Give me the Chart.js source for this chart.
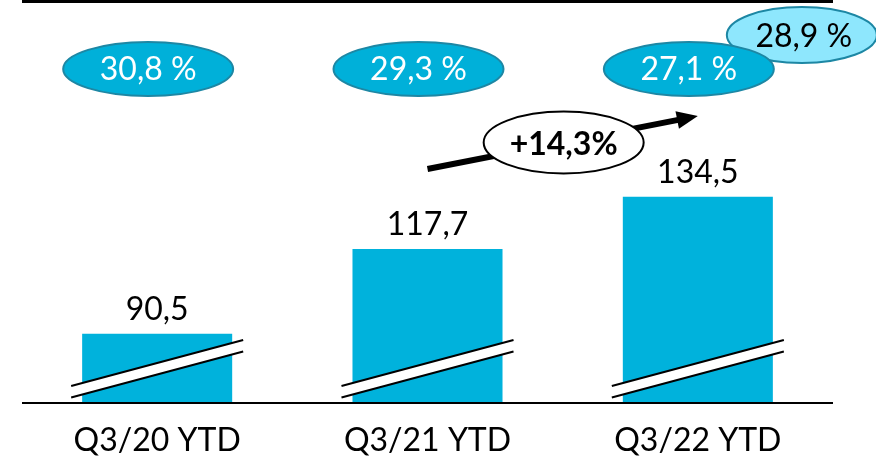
<!DOCTYPE html>
<html>
<head>
<meta charset="utf-8">
<script src="https://cdn.jsdelivr.net/npm/chart.js@4"></script>
<style>
  html, body { margin: 0; padding: 0; background: #fff; }
  canvas { display: block; }
</style>
</head>
<body>
<canvas id="salesChart" width="876" height="457"></canvas>
<script>
// Sales per period (bars) and margin per period (bubbles)
const categories = ['Q3/20 YTD', 'Q3/21 YTD', 'Q3/22 YTD'];
const sales = [90.5, 117.7, 134.5];
const margins = [30.8, 29.3, 27.1];
const adjustedMargin = 28.9; // alternative margin for the latest period

const BAR_COLOR = '#00b2dc';
const BUBBLE_FILL = '#00b0d9';
const BUBBLE_STROKE = '#1d87a4';
const BUBBLE_LIGHT = '#8ee7fd';
const FONT = 'Lato, "Open Sans", sans-serif';

const fmt = (v, digits = 1) => v.toFixed(digits).replace('.', ',');

function ellipse(ctx, cx, cy, rx, ry, fill, stroke, lineWidth) {
    ctx.beginPath();
    ctx.ellipse(cx, cy, rx, ry, 0, 0, Math.PI * 2);
    ctx.fillStyle = fill;
    ctx.fill();
    ctx.lineWidth = lineWidth;
    ctx.strokeStyle = stroke;
    ctx.stroke();
}

function centerText(ctx, text, x, baseline, color, weight = 'normal') {
    ctx.font = `${weight} 32px ${FONT}`;
    ctx.fillStyle = color;
    ctx.textAlign = 'center';
    ctx.textBaseline = 'alphabetic';
    ctx.fillText(text, x, baseline);
}

// Rules, axis breaks, value labels, margin bubbles and growth arrow
const decorations = {
    id: 'decorations',
    afterDraw(chart) {
        const ctx = chart.ctx;
        const area = chart.chartArea;
        const bars = chart.getDatasetMeta(0).data;
        ctx.save();

        // top rule and baseline
        ctx.fillStyle = '#000';
        ctx.fillRect(area.left, 0, area.right - area.left, 3);
        ctx.fillRect(area.left, area.bottom - 1, area.right - area.left, 2);

        // broken-axis marks across each bar (the value axis does not start at zero)
        const base = area.bottom;
        bars.forEach(bar => {
            const x0 = bar.x - bar.width / 2 - 11;
            const x1 = bar.x + bar.width / 2 + 11;
            ctx.beginPath();
            ctx.moveTo(x0, base - 17);
            ctx.lineTo(x1, base - 63);
            ctx.lineTo(x1, base - 51.5);
            ctx.lineTo(x0, base - 5.5);
            ctx.closePath();
            ctx.fillStyle = '#fff';
            ctx.fill();
            ctx.lineWidth = 2;
            ctx.strokeStyle = '#000';
            ctx.beginPath();
            ctx.moveTo(x0, base - 17);
            ctx.lineTo(x1, base - 63);
            ctx.moveTo(x0, base - 5.5);
            ctx.lineTo(x1, base - 51.5);
            ctx.stroke();
        });

        // value labels above bars
        bars.forEach((bar, i) => {
            centerText(ctx, fmt(sales[i]), bar.x, bar.y - 14, '#000');
        });

        // adjusted margin bubble sits behind the latest one
        const last = bars[bars.length - 1];
        ellipse(ctx, last.x + 104, 35, 75, 28, BUBBLE_LIGHT, BUBBLE_STROKE, 2);
        centerText(ctx, fmt(adjustedMargin) + ' %', last.x + 106, 47, '#000');

        bars.forEach((bar, i) => {
            const cx = bar.x - 9;
            ellipse(ctx, cx, 69, 85, 27, BUBBLE_FILL, BUBBLE_STROKE, 2);
            centerText(ctx, fmt(margins[i]) + ' %', cx, 80, '#fff');
        });

        // growth arrow between the last two periods
        const from = { x: bars[1].x, y: 169 };
        const to = { x: last.x, y: 116 };
        const ang = Math.atan2(to.y - from.y, to.x - from.x);
        const headLen = 21, headHalf = 9;
        const hb = { x: to.x - headLen * Math.cos(ang), y: to.y - headLen * Math.sin(ang) };
        ctx.strokeStyle = '#000';
        ctx.lineWidth = 6;
        ctx.beginPath();
        ctx.moveTo(from.x, from.y);
        ctx.lineTo(hb.x + Math.cos(ang), hb.y + Math.sin(ang));
        ctx.stroke();
        ctx.fillStyle = '#000';
        ctx.beginPath();
        ctx.moveTo(to.x, to.y);
        ctx.lineTo(hb.x - headHalf * Math.sin(ang), hb.y + headHalf * Math.cos(ang));
        ctx.lineTo(hb.x + headHalf * Math.sin(ang), hb.y - headHalf * Math.cos(ang));
        ctx.closePath();
        ctx.fill();

        const growth = (sales[2] / sales[1] - 1) * 100;
        const mx = (from.x + to.x) / 2 + 1;
        const my = (from.y + to.y) / 2;
        ellipse(ctx, mx, my, 80, 31, '#fff', '#000', 2);
        centerText(ctx, '+' + fmt(growth) + '%', mx, my + 12, '#000', 'bold');

        ctx.restore();
    }
};

new Chart(document.getElementById('salesChart'), {
    type: 'bar',
    data: {
        labels: categories,
        datasets: [{
            data: sales,
            backgroundColor: BAR_COLOR,
            borderWidth: 0,
            barPercentage: 0.555,
            categoryPercentage: 1
        }]
    },
    options: {
        responsive: false,
        animation: false,
        layout: { padding: { left: 22, right: 43, top: 2, bottom: 0 } },
        plugins: {
            legend: { display: false },
            tooltip: { enabled: false }
        },
        scales: {
            x: {
                grid: { display: false },
                border: { display: false },
                ticks: {
                    color: '#000',
                    font: { family: FONT, size: 32 },
                    padding: 10
                },
                afterFit: scale => { scale.height = 54; }
            },
            y: {
                display: false,
                min: 68.25,
                max: 197
            }
        }
    },
    plugins: [decorations]
});
</script>
</body>
</html>
